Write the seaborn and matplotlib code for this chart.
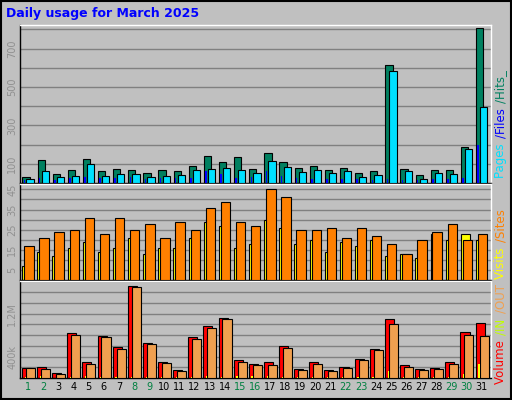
import matplotlib
matplotlib.use("Agg")
import matplotlib.pyplot as plt
import seaborn as sns
import numpy as np

days = list(range(1, 32))
weekend = [1, 2, 8, 9, 15, 16, 22, 23, 29, 30]
hits = [32,121,47,68,126,63,74,68,53,68,63,89,142,110,137,74,158,110,79,89,68,79,53,63,616,74,42,68,68,189,805]
files = [21,63,32,37,100,37,47,47,32,37,42,68,74,79,68,53,116,84,58,68,53,63,32,42,584,63,21,53,47,179,395]
pages = [18,25,15,28,30,28,25,30,20,28,25,25,63,47,28,30,63,35,25,20,20,20,20,18,20,18,15,20,20,25,200]
sites = [17,21,24,25,31,23,31,25,28,21,29,25,36,39,29,27,45,41,25,25,26,21,26,22,18,13,20,24,28,20,23]
visits = [7,14,12,16,19,14,16,21,13,16,16,21,29,27,16,18,30,26,18,20,14,19,17,20,12,13,11,23,20,23,20]
volume = [195,214,100,838,290,787,573,1707,649,290,157,762,970,1121,328,252,290,592,176,290,157,214,346,535,1102,233,176,195,290,857,1027]
kout = [195,176,82,800,252,762,535,1688,630,271,139,724,932,1102,290,233,233,554,157,252,139,195,328,517,1008,214,157,176,252,800,781]
kin = [10,30,5,20,30,20,20,20,20,20,10,20,30,20,40,30,40,20,20,20,10,20,20,20,126,20,10,20,20,82,252]

sns.set_style("white")
plt.rcParams['font.family'] = ['DejaVu Sans']
BG = "#C0C0C0"
fig = plt.figure(figsize=(5.12, 4.0), dpi=100, facecolor=BG)
x = np.array(days, dtype=float)

def mkax(rect, ymax, step, ticks, labels):
    ax = fig.add_axes(rect, facecolor=BG)
    ax.set_xlim(0.45, 31.6)
    ax.set_ylim(0, ymax)
    for g in np.arange(step, ymax, step):
        ax.axhline(g, color="#808080", lw=1, zorder=0)
    ax.set_xticks([])
    ax.set_yticks(ticks)
    ax.set_yticklabels(labels, rotation=90, va="center", fontsize=7, color="#909090")
    ax.tick_params(axis="y", length=0, pad=2)
    for s in ax.spines.values():
        s.set_color("black"); s.set_linewidth(1)
    ax.spines["top"].set_color("white"); ax.spines["right"].set_color("white")
    return ax

ax1 = mkax([0.039, 0.5425, 0.92, 0.395], 823, 100, [100, 300, 500, 700], ["100", "300", "500", "700"])
ax1.bar(x - 0.15, hits, width=0.48, color="#008060", edgecolor="black", lw=0.8, zorder=2)
ax1.bar(x + 0.12, files, width=0.48, color="#00E0FF", edgecolor="black", lw=0.8, zorder=3)
ax1.bar(x - 0.25, pages, width=0.1, color="#0000FF", lw=0, zorder=4)

ax2 = mkax([0.039, 0.30, 0.92, 0.24], 47.7, 5, [5, 15, 25, 35, 45], ["5", "15", "25", "35", "45"])
ax2.bar(x - 0.1, visits, width=0.6, color="#FFFF00", edgecolor="black", lw=0.8, zorder=2)
ax2.bar(x + 0.04, sites, width=0.62, color="#FF8000", edgecolor="black", lw=0.8, zorder=3)

ax3 = mkax([0.039, 0.055, 0.92, 0.2425], 1808, 200, [400, 1200], ["400k", "1.2M"])
ax3.bar(x - 0.12, volume, width=0.6, color="#FF0000", edgecolor="black", lw=0.8, zorder=2)
ax3.bar(x + 0.14, kout, width=0.6, color="#F0A050", edgecolor="black", lw=0.8, zorder=3)
ax3.bar(x - 0.2, kin, width=0.08, color="#FFFF00", lw=0, zorder=4)

for d in days:
    ax3.text(d, -0.04, str(d), transform=ax3.get_xaxis_transform(), ha="center", va="top",
             fontsize=7, color="#008040" if d in weekend else "black")

fig.text(0.012, 0.965, "Daily usage for March 2025", fontsize=9, fontweight="bold", color="#0000FF", va="center")

fig.canvas.draw()
rend = fig.canvas.get_renderer()
def vlabel(parts, y0):
    y = y0
    for t, c in parts:
        tx = fig.text(0.978, y, t, rotation=90, fontsize=8.5, color=c, ha="center", va="bottom")
        bb = tx.get_window_extent(rend)
        y += bb.height / fig.bbox.height + 0.004
vlabel([("Pages ", "#00E0FF"), ("/Files ", "#0000FF"), ("/Hits_", "#008060")], 0.555)
vlabel([("Visits ", "#FFFF00"), ("/Sites", "#FF8000")], 0.302)
vlabel([("Volume ", "#FF0000"), ("/IN ", "#C0FF00"), ("/OUT", "#F0A050")], 0.04)

fig.patches.append(plt.Rectangle((0.002, 0.003), 0.996, 0.994, transform=fig.transFigure,
                                 fill=False, edgecolor="black", lw=1.5))
fig.savefig("out.png", dpi=100, facecolor=BG)
